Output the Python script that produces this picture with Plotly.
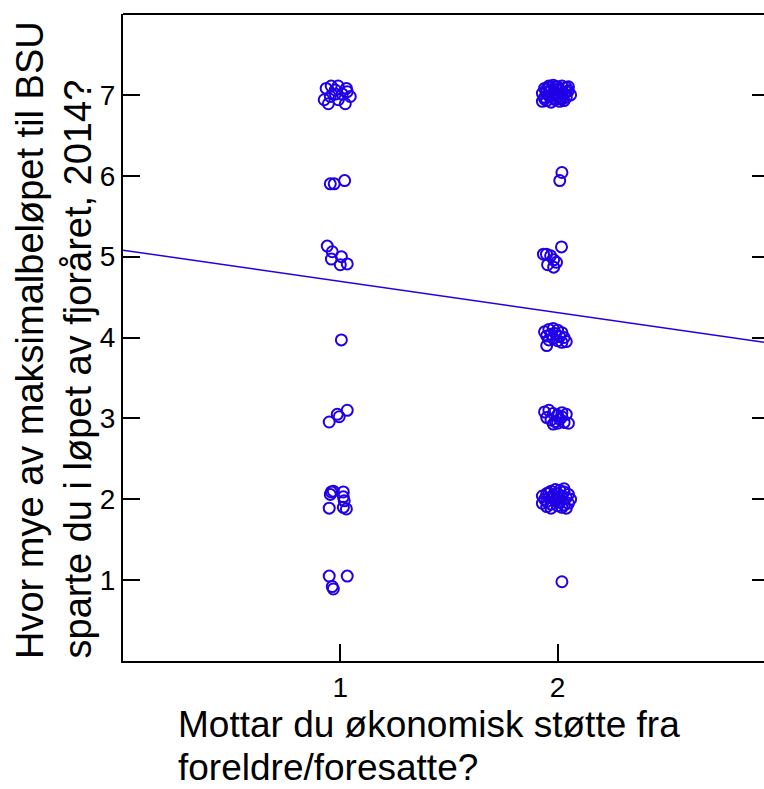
import plotly.graph_objects as go

# ---- data ----
x_g1 = [0.935, 0.958, 0.99, 1.028, 0.926, 0.954, 0.977, 1.009, 1.032, 0.945, 1.023, 0.991, 0.977, 1.046,
        0.954, 0.972, 1.02,
        0.94, 0.963, 0.959, 1.005, 1.0, 1.032,
        1.005,
        0.949, 0.986, 0.995, 1.032,
        0.959, 0.968, 1.014, 1.014, 1.018, 0.949, 1.014, 1.028, 0.954,
        0.949, 1.032, 0.963, 0.968]
y_g1 = [7.08, 7.11, 7.11, 7.08, 6.94, 6.98, 7.01, 7.01, 7.04, 6.89, 6.89, 6.94, 7.06, 6.98,
        5.90, 5.90, 5.94,
        5.13, 5.06, 4.97, 5.00, 4.90, 4.91,
        3.97,
        2.955, 3.05, 3.02, 3.10,
        2.09, 2.10, 2.09, 2.03, 1.98, 1.89, 1.90, 1.88, 2.06,
        1.05, 1.05, 0.92, 0.89]

x_g2 = [1.94, 1.96, 1.98, 2.00, 2.02, 2.04, 2.05, 1.93, 1.95, 1.97, 1.99, 2.01, 2.03, 2.06, 1.94, 1.96, 1.98, 2.00,
        2.02, 2.04, 1.93, 1.95, 1.97, 1.99, 2.01, 2.03, 1.95, 2.00, 2.05, 1.98, 2.02, 1.96, 2.04, 1.94, 2.01, 1.99,
        2.02, 2.01,
        2.018, 1.935, 1.949, 1.968, 1.982, 1.954, 1.982, 1.995,
        1.94, 1.96, 1.98, 2.00, 2.02, 1.95, 1.97, 1.99, 2.01, 2.03, 1.96, 1.98, 2.02, 1.95, 2.00, 2.04,
        1.94, 1.96, 1.98, 2.00, 2.02, 2.04, 1.95, 1.97, 1.99, 2.01, 2.03, 2.05, 1.98, 2.02, 2.00,
        1.93, 1.95, 1.97, 1.99, 2.01, 2.03, 2.05, 1.94, 1.96, 1.98, 2.00, 2.02, 2.04, 2.06, 1.93, 1.95,
        1.97, 1.99, 2.01, 2.03, 2.05, 1.95, 1.97, 2.00, 2.02, 2.04, 1.98, 2.01, 1.96, 2.03,
        2.02]
y_g2 = [7.08, 7.11, 7.12, 7.10, 7.11, 7.09, 7.05, 7.02, 7.04, 7.06, 7.03, 7.05, 7.02, 7.00, 6.97, 6.99, 6.96, 6.98,
        6.95, 6.97, 6.92, 6.93, 6.91, 6.94, 6.92, 6.93, 7.07, 7.07, 7.10, 7.00, 7.01, 7.09, 7.04, 6.95, 6.96, 7.10,
        6.04, 5.94,
        5.12, 5.03, 5.03, 5.01, 4.96, 4.90, 4.87, 4.93,
        4.07, 4.10, 4.11, 4.09, 4.06, 4.02, 4.04, 4.05, 4.01, 4.00, 3.97, 3.99, 3.94, 3.90, 3.96, 3.95,
        3.08, 3.10, 3.06, 3.04, 3.07, 3.05, 3.01, 2.98, 2.96, 2.99, 2.95, 2.94, 2.93, 3.02, 2.94,
        2.04, 2.07, 2.10, 2.12, 2.11, 2.09, 2.06, 2.00, 2.02, 2.05, 2.07, 2.04, 2.02, 2.00, 1.95, 1.97,
        1.94, 1.98, 1.96, 1.93, 1.95, 1.91, 1.89, 1.92, 1.90, 1.89, 2.01, 2.01, 2.08, 2.13,
        0.98]

fit_x = [0.0, 2.95]
fit_y = [5.08, 3.94]

x_ticks = [1, 2]
y_ticks = [1, 2, 3, 4, 5, 6, 7]

x_title_lines = ["Mottar du økonomisk støtte fra", "foreldre/foresatte?"]
y_title_lines = ["Hvor mye av maksimalbeløpet til BSU", "sparte du i løpet av fjoråret, 2014?"]

BLUE = "#2000e6"
FONT = "Liberation Sans, Arial, sans-serif"
W, L = 764, 123
PW = W - L
H, T, B = 789, 14, 128
PH = H - T - B

fig = go.Figure()
fig.add_trace(go.Scatter(
    x=x_g1 + x_g2, y=y_g1 + y_g2, mode="markers",
    marker=dict(symbol="circle-open", size=11, color=BLUE, line=dict(width=2, color=BLUE)),
    showlegend=False, hoverinfo="skip"))
fig.add_trace(go.Scatter(
    x=fit_x, y=fit_y, mode="lines", line=dict(color=BLUE, width=1.5),
    showlegend=False, hoverinfo="skip"))
fig.add_trace(go.Scatter(x=[None], y=[None], yaxis="y2", showlegend=False))

annotations = []
# x title: two left-aligned lines
for txt, yc in zip(x_title_lines, [725, 767.5]):
    annotations.append(dict(text=txt, xref="paper", yref="paper",
                            x=(176 - L) / PW, y=(H - B - yc) / PH,
                            xanchor="left", yanchor="middle", showarrow=False,
                            font=dict(size=37, family=FONT)))
# y title: two rotated lines, bottom-aligned
for txt, xc in zip(y_title_lines, [30, 77]):
    annotations.append(dict(text=txt, xref="paper", yref="paper",
                            x=-(L - xc) / PW, y=(H - B - 661) / PH,
                            xanchor="center", yanchor="bottom", textangle=-90, showarrow=False,
                            font=dict(size=38, family=FONT)))

fig.update_layout(
    width=W, height=H,
    margin=dict(l=L, r=0, t=T, b=B),
    paper_bgcolor="white", plot_bgcolor="white",
    font=dict(family=FONT, color="black", size=28),
    xaxis=dict(range=[0, 2.95], tickvals=x_ticks, ticks="inside", ticklen=17, tickwidth=2,
               tickcolor="black", showline=True, linecolor="black", linewidth=2,
               showgrid=False, zeroline=False, tickfont=dict(size=28)),
    yaxis=dict(range=[0, 8], tickvals=y_ticks, ticks="inside", ticklen=17, tickwidth=2,
               tickcolor="black", showline=True, linecolor="black", linewidth=2,
               showgrid=False, zeroline=False, tickfont=dict(size=28)),
    yaxis2=dict(range=[0, 8], tickvals=y_ticks, overlaying="y", side="right", ticks="inside",
                ticklen=12, tickwidth=2, tickcolor="black", showticklabels=False,
                showline=False, showgrid=False, zeroline=False),
    shapes=[dict(type="line", xref="paper", yref="paper", x0=0, x1=1, y0=1, y1=1,
                 line=dict(color="black", width=2))],
    annotations=annotations,
)

fig.write_html("out.html")
